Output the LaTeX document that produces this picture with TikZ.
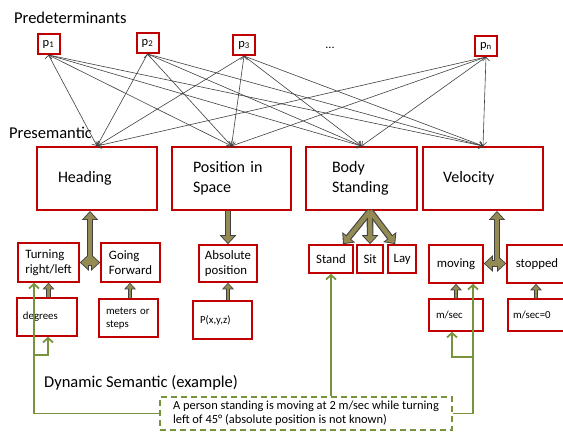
\documentclass[tikz,border=0pt]{standalone}
\usepackage{fontspec}
\setmainfont{Carlito}
\usetikzlibrary{arrows.meta, positioning}

\definecolor{boxred}{HTML}{C00000}
\definecolor{fatfill}{HTML}{948A54}
\definecolor{fatedge}{HTML}{404040}
\definecolor{linkgreen}{HTML}{77933C}

\tikzset{
        x=1pt, y=-1pt, % one unit is one pixel of the sketch, y grows downwards
        edge/.style={draw=fatedge, line width=0.6pt, -{Straight Barb[length=3.5pt,width=7pt]}}, % thin arrows p_i -> box
        otip/.tip={Triangle[length=9pt,width=16pt]}, % outline of the big heads
        itip/.tip={Triangle[length=6.8pt,width=12pt]}, % filling of the big heads
        sotip/.tip={Triangle[length=6.5pt,width=11.5pt]}, % outline of the small heads
        sitip/.tip={Triangle[length=4.8pt,width=8pt]}, % filling of the small heads
        fatout/.style={draw=fatedge, line width=6.6pt},
        fatin/.style={draw=fatfill, line width=4.4pt, shorten >=1.3pt},
        smout/.style={draw=fatedge, line width=4.6pt},
        smin/.style={draw=fatfill, line width=2.8pt, shorten >=1pt},
        link/.style={draw=linkgreen, line width=1.8pt, -{Straight Barb[length=4.5pt,width=10pt]}}, % green example arrows
    }
\tikzstyle{layername}=[anchor=west, inner sep=0pt, font=\fontsize{16.5}{19}\selectfont]
\tikzstyle{pbox}=[draw=boxred, line width=2pt, fill=white, minimum width=22pt, minimum height=20pt, inner sep=1pt, font=\fontsize{12.5}{14}\selectfont]
\tikzstyle{bigbox}=[draw=boxred, line width=2pt, fill=white, minimum height=63pt, align=left, font=\fontsize{16}{19.5}\selectfont]
\tikzstyle{midbox}=[draw=boxred, line width=1.6pt, fill=white, align=left, inner sep=1pt, font=\fontsize{12.8}{15}\selectfont]
\tikzstyle{lowbox}=[draw=boxred, line width=1.5pt, fill=white, align=left, inner sep=0pt, font=\fontsize{10.8}{13}\selectfont]
\tikzstyle{note}=[draw=linkgreen, line width=1.6pt, dash pattern=on 6pt off 4pt, fill=white, align=left, font=\fontsize{12.4}{14}\selectfont]

\begin{document}
\begin{tikzpicture}
    \useasboundingbox (0,0) rectangle (563,441);

    % predeterminants
    \node[layername] (predet) at (14,18) {Predeterminants};
    \node[pbox] (p1) at (48.5,44) {p\textsubscript{1}};
    \node[pbox] (p2) at (147.5,43) {p\textsubscript{2}};
    \node[pbox] (p3) at (244,45) {p\textsubscript{3}};
    \node[inner sep=0pt, font=\fontsize{12}{14}\selectfont] (dots) at (330,48) {...};
    \node[pbox] (pn) at (486,46) {p\textsubscript{n}};

    % presemantic
    \node[layername] (presem) at (9,133) {Presemantic};
    \node[bigbox, minimum width=120pt, text width=78pt] (head) at (97,178.5) {Heading};
    \node[bigbox, minimum width=119pt, text width=77pt] (pos) at (231.5,178.5) {Position in\\Space};
    \node[bigbox, minimum width=111pt, text width=59pt] (body) at (361.5,178.5) {Body\\Standing};
    \node[bigbox, minimum width=120pt, text width=80pt] (velo) at (483,178.5) {Velocity};

    \draw[edge] (p1.south) edge (head.north) edge (pos.north) edge (body.north) edge (velo.north);
    \draw[edge] (p2.south) edge (head.north) edge (pos.north) edge (body.north) edge (velo.north);
    \draw[edge] (p3.south) edge (head.north) edge (pos.north) edge (body.north) edge (velo.north);
    \draw[edge] (pn.south) edge (head.north) edge (pos.north) edge (body.north) edge (velo.north);

    % second row
    \node[midbox, minimum width=61pt, minimum height=39pt] (turn) at (48.5,262.5) {Turning\\right/left};
    \node[midbox, minimum width=59pt, minimum height=39pt] (going) at (130.5,262.5) {Going\\Forward};
    \node[midbox, minimum width=58pt, minimum height=37pt] (abspos) at (228,263.5) {Absolute\\position};
    \node[midbox, minimum width=44pt, minimum height=28pt] (stand) at (331,259) {Stand};
    \node[midbox, minimum width=26pt, minimum height=28pt, right=2.5pt of stand] (sit) {Sit};
    \node[midbox, minimum width=28pt, minimum height=28pt, right=3.5pt of sit] (lay) {Lay};
    \node[midbox, minimum width=54pt, minimum height=38pt] (moving) at (456,264) {moving};
    \node[midbox, minimum width=60pt, minimum height=38pt] (stopped) at (537,264) {stopped};

    % third row
    \node[lowbox, minimum width=60pt, minimum height=38pt, text width=48pt] (deg) at (47,317) {degrees};
    \node[lowbox, minimum width=59pt, minimum height=38pt, text width=45pt] (mtr) at (128.5,318) {meters or\\steps};
    \node[lowbox, minimum width=59pt, minimum height=38pt, text width=45pt] (pxyz) at (222.5,320) {P(x,y,z)};
    \node[lowbox, minimum width=54pt, minimum height=32pt, text width=40pt] (msec) at (456,315) {m/sec};
    \node[lowbox, minimum width=56pt, minimum height=32pt, text width=46pt] (msec0) at (536,315) {m/sec=0};

    % fat arrows
    \coordinate (hj) at (90,262.5);
    \coordinate (vj) at (497,263.5);
    \coordinate (bf) at ([xshift=8.5pt]body.south);
    \draw[fatout, -otip] (hj) -- (hj |- head.south);
    \draw[fatout, otip-otip] (turn.east |- hj) -- (going.west |- hj);
    \draw[fatin, -itip] (hj) -- (hj |- head.south);
    \draw[fatin, itip-itip, shorten <=1.3pt] (turn.east |- hj) -- (going.west |- hj);
    \draw[fatout, -otip] (abspos.north |- pos.south) -- (abspos.north);
    \draw[fatin, -itip] (abspos.north |- pos.south) -- (abspos.north);
    \draw[fatout, -otip] (bf) -- ([xshift=12pt]stand.north);
    \draw[fatout, -otip] (bf) -- (sit.north);
    \draw[fatout, -otip] (bf) -- ([xshift=-7pt]lay.north);
    \draw[fatin, -itip] (bf) -- ([xshift=12pt]stand.north);
    \draw[fatin, -itip] (bf) -- (sit.north);
    \draw[fatin, -itip] (bf) -- ([xshift=-7pt]lay.north);
    \draw[fatout, -otip] (vj) -- (vj |- velo.south);
    \draw[fatout, otip-otip] (moving.east |- vj) -- (stopped.west |- vj);
    \draw[fatin, -itip] (vj) -- (vj |- velo.south);
    \draw[fatin, itip-itip, shorten <=1.3pt] (moving.east |- vj) -- (stopped.west |- vj);

    \draw[smout, -sotip] ([xshift=1.5pt]deg.north) -- ([xshift=1.5pt]deg.north |- turn.south);
    \draw[smin, -sitip] ([xshift=1.5pt]deg.north) -- ([xshift=1.5pt]deg.north |- turn.south);
    \draw[smout, -sotip] ([xshift=1.5pt]mtr.north) -- ([xshift=1.5pt]mtr.north |- going.south);
    \draw[smin, -sitip] ([xshift=1.5pt]mtr.north) -- ([xshift=1.5pt]mtr.north |- going.south);
    \draw[smout, -sotip] (abspos.south |- pxyz.north) -- (abspos.south);
    \draw[smin, -sitip] (abspos.south |- pxyz.north) -- (abspos.south);
    \draw[smout, -sotip] (msec.north) -- (msec.north |- moving.south);
    \draw[smin, -sitip] (msec.north) -- (msec.north |- moving.south);
    \draw[smout, -sotip] (msec0.north) -- (msec0.north |- stopped.south);
    \draw[smin, -sitip] (msec0.north) -- (msec0.north |- stopped.south);

    % dynamic semantic
    \node[layername] (dynsem) at (44,383) {Dynamic Semantic (example)};
    \node[note, minimum width=292pt, minimum height=33pt] (ex) at (306,413.5)
        {A person standing is moving at 2 m/sec while turning\\left of 45° (absolute position is not known)};

    \coordinate (lsplit) at (34,355);
    \coordinate (rsplit) at (473,357);
    \draw[link] (ex.west) -| ([xshift=-14.5pt]turn.south);
    \draw[link] (lsplit) -| ([xshift=1pt]deg.south);
    \draw[link] (ex.north -| stand.south) -- (stand.south);
    \draw[link] (ex.east) -| ([xshift=17pt]moving.south);
    \draw[link] (rsplit) -| ([xshift=-4pt]msec.south);
\end{tikzpicture}
\end{document}
